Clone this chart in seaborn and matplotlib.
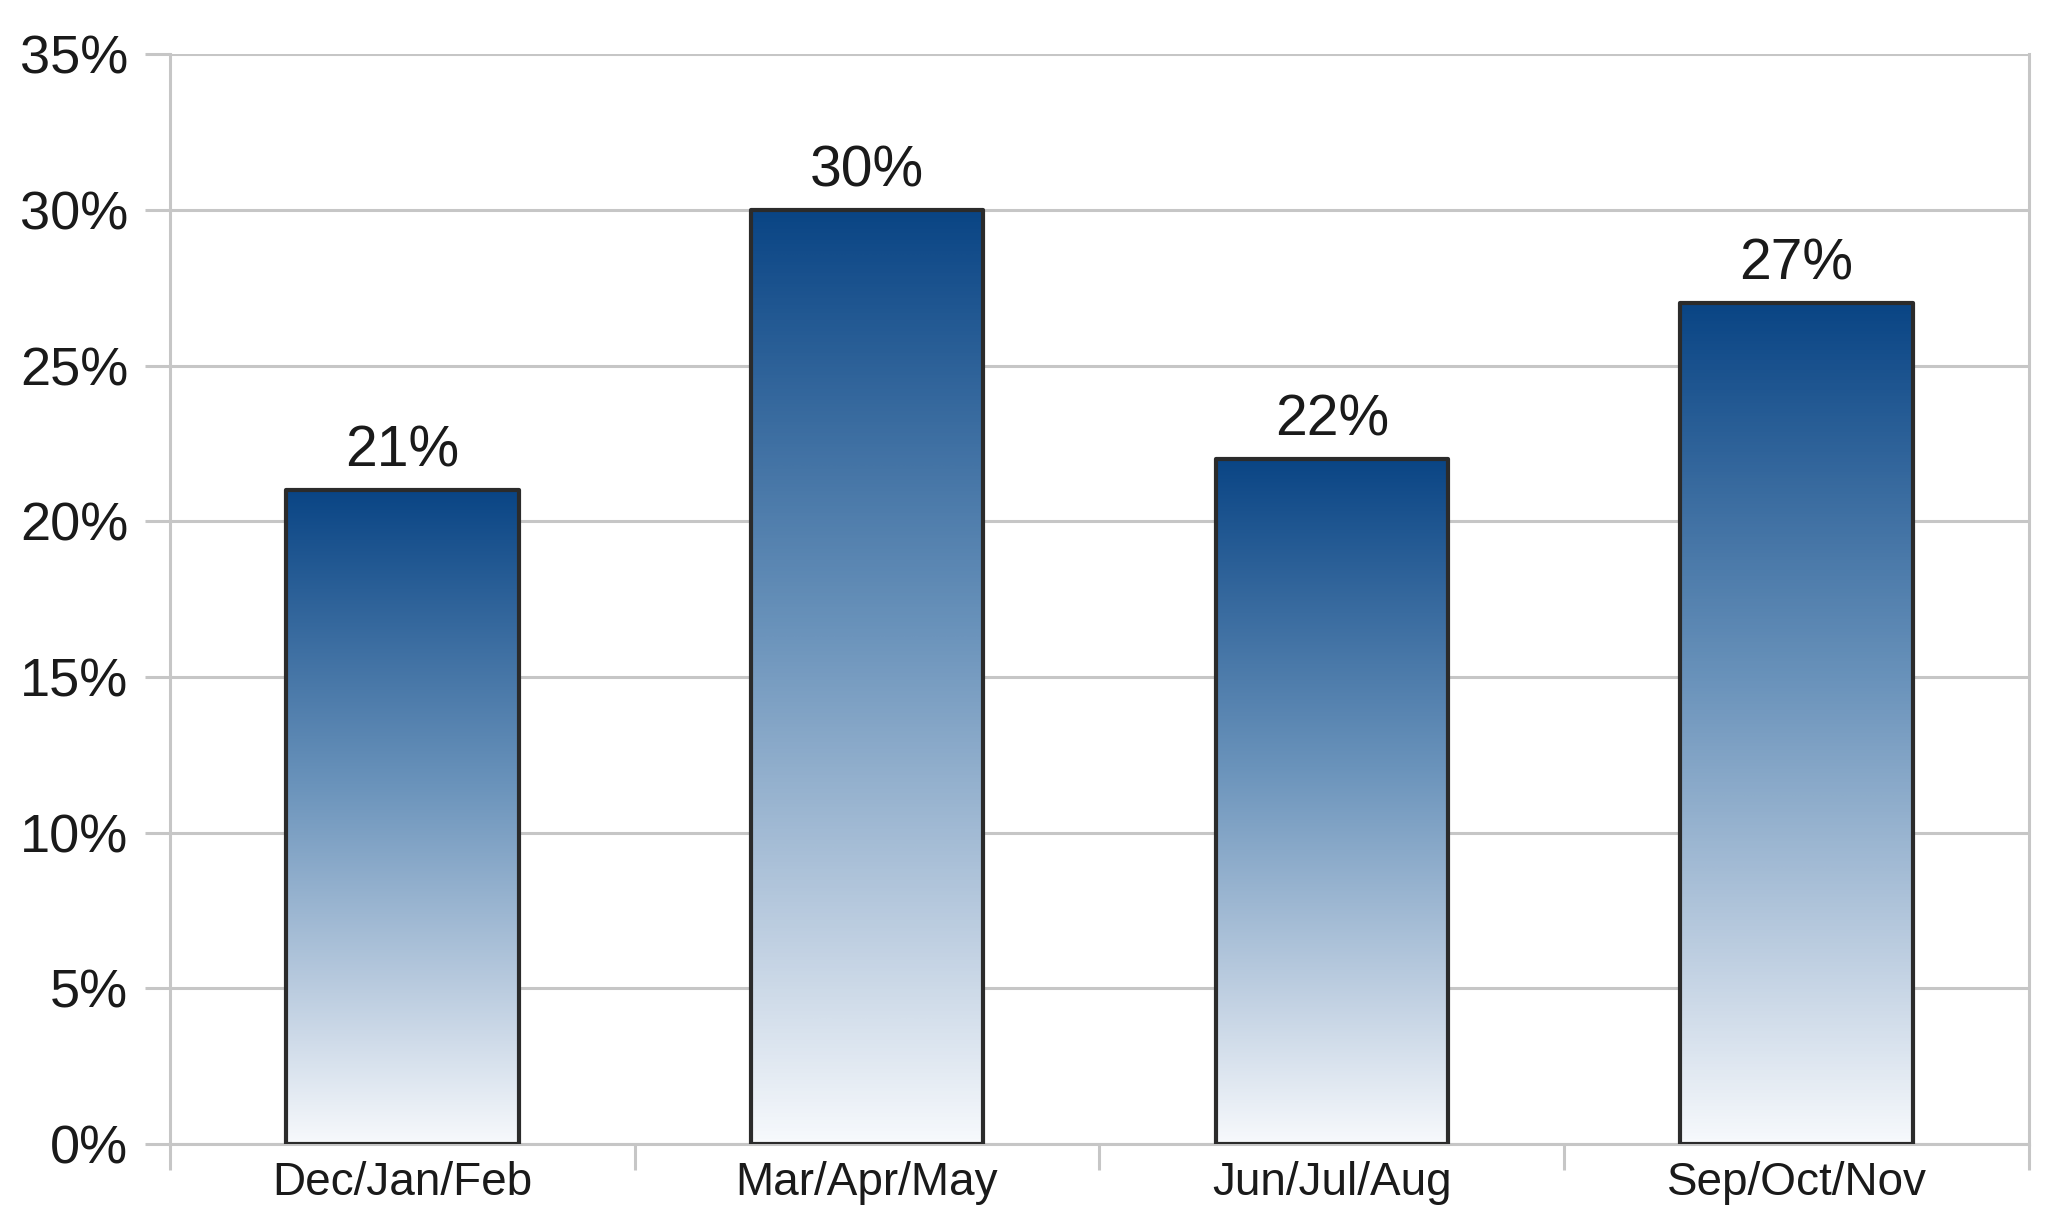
import numpy as np
import pandas as pd
import matplotlib
matplotlib.use("Agg")
import matplotlib.pyplot as plt
from matplotlib.colors import LinearSegmentedColormap
from matplotlib.ticker import FixedLocator, PercentFormatter
from matplotlib import font_manager
import seaborn as sns

# datos
seasons = ["Dec/Jan/Feb", "Mar/Apr/May", "Jun/Jul/Aug", "Sep/Oct/Nov"]
shares = [21, 30, 22, 27]
y_ticks = [0, 5, 10, 15, 20, 25, 30, 35]

df = pd.DataFrame({"season": seasons, "share": shares})

sns.set_style("white")
plt.rcParams["font.family"] = ["Liberation Sans", "DejaVu Sans"]

# fuente estrecha para las cifras (el original se ve algo comprimido)
names = {f.name for f in font_manager.fontManager.ttflist}
narrow = "Liberation Sans Narrow" if "Liberation Sans Narrow" in names else "Liberation Sans"
num_size = 44 if narrow != "Liberation Sans" else 40

grid_gray = "#c6c6c6"
text_col = "#1a1a1a"

fig = plt.figure(figsize=(20.55, 12.3), dpi=100)
ax = fig.add_axes([0.0827, 0.0699, 0.9046, 0.8861])

sns.barplot(data=df, x="season", y="share", width=0.5, ax=ax,
            color="#0a4585", edgecolor="#2b2b2b", linewidth=3)

# degradado azul -> blanco dentro de cada barra
cmap = LinearSegmentedColormap.from_list(
    "bar_grad", [(0.0, "#f7f9fc"), (0.23, "#bccde0"), (0.55, "#6a93bb"), (1.0, "#0a4585")])
grad = np.linspace(0, 1, 256).reshape(-1, 1)
for patch in ax.patches:
    x0, y0, w, h = patch.get_x(), patch.get_y(), patch.get_width(), patch.get_height()
    im = ax.imshow(grad, extent=[x0, x0 + w, y0, y0 + h], origin="lower",
                   cmap=cmap, aspect="auto", zorder=2, interpolation="bicubic")
    im.set_clip_path(patch)
    patch.set_facecolor("none")
    patch.set_zorder(3)
    patch.set_joinstyle("round")

# etiquetas de valor
for i, v in enumerate(shares):
    ax.annotate(f"{v}%", xy=(i, v), xytext=(0, 17), textcoords="offset points",
                ha="center", va="baseline", fontsize=num_size + 1,
                family=[narrow, "DejaVu Sans"], color=text_col)

ax.set_xlim(-0.5, len(seasons) - 0.5)
ax.set_ylim(0, 35)
ax.yaxis.set_major_locator(FixedLocator(y_ticks))
ax.yaxis.set_major_formatter(PercentFormatter(decimals=0))
ax.grid(axis="y", color=grid_gray, linewidth=2.2)
ax.set_axisbelow(True)

# marcas del eje x en los limites de cada categoria
ax.xaxis.set_minor_locator(FixedLocator(np.arange(-0.5, len(seasons), 1.0)))
ax.tick_params(axis="x", which="major", length=0, pad=12, labelsize=33, labelcolor=text_col)
ax.tick_params(axis="x", which="minor", length=18.5, width=2.2, color=grid_gray, bottom=True)
ax.tick_params(axis="y", length=18, width=2.2, color=grid_gray, pad=12,
               labelsize=num_size - 1, labelcolor=text_col, left=True)
for lab in ax.get_yticklabels():
    lab.set_family([narrow, "DejaVu Sans"])

for side in ["left", "right", "bottom"]:
    ax.spines[side].set_color(grid_gray)
    ax.spines[side].set_linewidth(2.2)
ax.spines["top"].set_visible(False)

ax.set_xlabel("")
ax.set_ylabel("")

fig.savefig("out.png", dpi=100, facecolor="white")
